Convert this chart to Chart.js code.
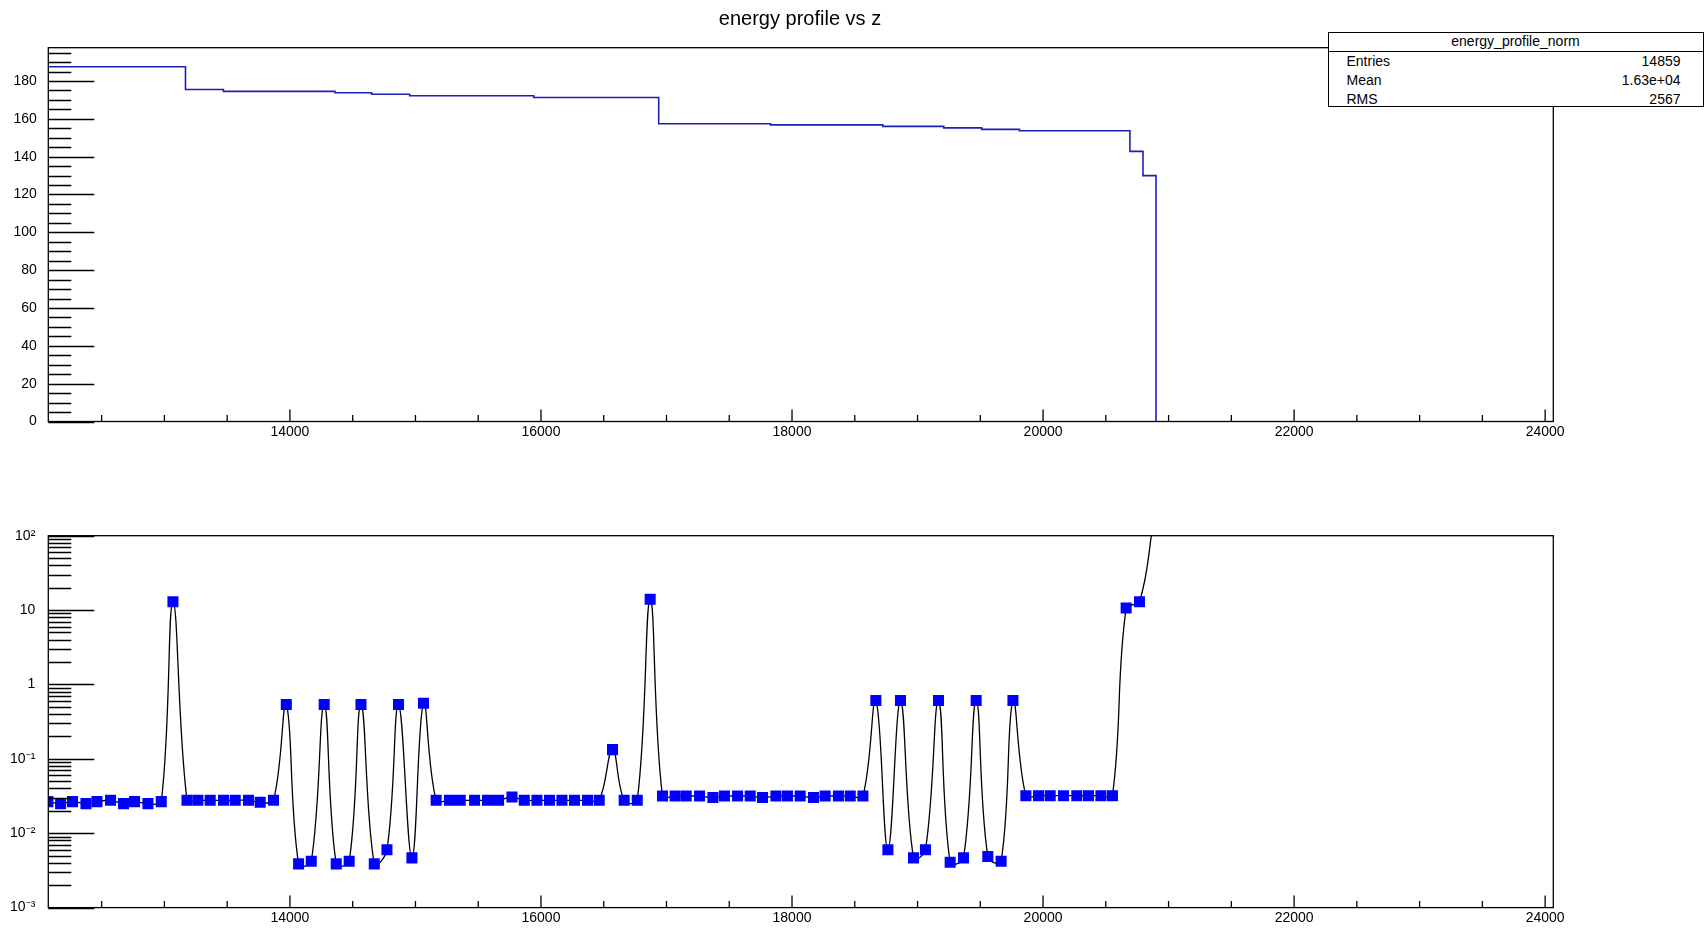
<!DOCTYPE html>
<html>
<head>
<meta charset="utf-8">
<title>energy profile vs z</title>
<script src="https://cdn.jsdelivr.net/npm/chart.js@4.4.1/dist/chart.umd.min.js"></script>
<style>
  html, body { margin: 0; padding: 0; background: #fff; }
  body { width: 1707px; height: 929px; position: relative; overflow: hidden; font-family: "Liberation Sans", Arial, sans-serif; color: #000; }
  canvas { position: absolute; left: 0; }
  #topChart { top: 0; }
  #bottomChart { top: 465px; }
  .title { position: absolute; left: 600px; width: 400px; top: 6px; text-align: center; font-size: 20px; line-height: 24px; white-space: nowrap; }
  .stats { position: absolute; left: 1327.5px; top: 32px; width: 376px; height: 75px; box-sizing: border-box; border: 1.4px solid #000; background: #fff; font-size: 14px; z-index: 2; }
  .stats .head { position: absolute; left: 0; right: 0; top: 0; height: 17.5px; border-bottom: 1.4px solid #000; text-align: center; line-height: 17.5px; }
  .stats .lbl, .stats .val { position: absolute; line-height: 16px; white-space: nowrap; }
  .stats .lbl { left: 18px; }
  .stats .val { right: 22px; text-align: right; }
</style>
</head>
<body>
<canvas id="topChart" width="1707" height="465"></canvas>
<canvas id="bottomChart" width="1707" height="464"></canvas>
<div class="title">energy profile vs z</div>
<div class="stats">
  <div class="head">energy_profile_norm</div>
  <div class="lbl" style="top:19.5px">Entries</div><div class="val" style="top:19.5px">14859</div>
  <div class="lbl" style="top:38.5px">Mean</div><div class="val" style="top:38.5px">1.63e+04</div>
  <div class="lbl" style="top:57.5px">RMS</div><div class="val" style="top:57.5px">2567</div>
</div>
<script>
// histogram energy_profile_norm: bin edges where the level changes, and the level from that edge on
const histEdges = [12075, 13168, 13470, 14359, 14651, 14954, 15942, 16938, 17829, 18723, 19209, 19511, 19812, 20692, 20796, 20900];
const histValues = [187.5, 175.5, 174.5, 173.8, 173.0, 172.2, 171.3, 157.4, 156.8, 156.0, 155.2, 154.4, 153.7, 142.8, 130.0, 0];

// lower pad: graph points (z, value), log scale
const graphZ = [
  12072, 12173, 12268, 12375, 12463, 12571, 12674, 12762, 12869, 12975,
  13068, 13180, 13267, 13365, 13471, 13564, 13670, 13763, 13869, 13971,
  14069, 14170, 14273, 14369, 14472, 14566, 14672, 14773, 14865, 14972,
  15064, 15165, 15271, 15357, 15471, 15574, 15662, 15769, 15867, 15968,
  16068, 16167, 16267, 16371, 16464, 16570, 16663, 16767, 16870, 16968,
  17069, 17157, 17263, 17370, 17462, 17566, 17667, 17765, 17872, 17964,
  18065, 18171, 18264, 18370, 18464, 18565, 18668, 18764, 18864, 18968,
  19063, 19167, 19260, 19366, 19467, 19560, 19666, 19760, 19863, 19964,
  20057, 20163, 20269, 20362, 20461, 20553, 20662, 20768, 20881
];
const graphValues = [
  0.0266, 0.025, 0.0266, 0.025, 0.0266, 0.0277, 0.025, 0.0266, 0.025, 0.0266,
  12.9, 0.0277, 0.0277, 0.0277, 0.0277, 0.0277, 0.0277, 0.026, 0.0277, 0.536,
  0.00387, 0.0042, 0.536, 0.00387, 0.0042, 0.536, 0.00387, 0.006, 0.536, 0.00466,
  0.558, 0.0277, 0.0277, 0.0277, 0.0277, 0.0277, 0.0277, 0.0307, 0.0277, 0.0277,
  0.0277, 0.0277, 0.0277, 0.0277, 0.0277, 0.133, 0.0277, 0.0277, 13.97, 0.0316,
  0.0316, 0.0316, 0.0316, 0.0302, 0.0316, 0.0316, 0.0316, 0.0302, 0.0316, 0.0316,
  0.0316, 0.0302, 0.0316, 0.0316, 0.0316, 0.0316, 0.607, 0.006, 0.607, 0.00466,
  0.006, 0.607, 0.00407, 0.00466, 0.607, 0.00485, 0.0042, 0.607, 0.032, 0.032,
  0.032, 0.032, 0.032, 0.032, 0.032, 0.032, 10.7, 12.9, 160
];

const zTicks = [14000, 16000, 18000, 20000, 22000, 24000];
const energyTicks = [0, 20, 40, 60, 80, 100, 120, 140, 160, 180];
const ratioTicks = [0.001, 0.01, 0.1, 1, 10, 100];
const ratioLabels = ['10\u207B\u00B3', '10\u207B\u00B2', '10\u207B\u00B9', '1', '10', '10\u00B2'];

const Z_MIN = 12075, Z_MAX = 24065;

Chart.defaults.font.family = '"Liberation Sans", Arial, Helvetica, sans-serif';
Chart.defaults.font.size = 14;
Chart.defaults.color = '#000';

// ROOT style frame: box round the pad and ticks pointing inwards
const rootFrame = {
  id: 'rootFrame',
  afterDatasetsDraw(chart) {
    const { ctx, chartArea: a, scales: { x, y } } = chart;
    ctx.save();
    ctx.strokeStyle = '#000';
    ctx.lineWidth = 1.3;
    ctx.beginPath();
    for (let v = 12500; v <= x.max; v += 500) {
      const px = x.getPixelForValue(v);
      const len = v % 2000 === 0 ? 12 : 6.5;
      ctx.moveTo(px, a.bottom);
      ctx.lineTo(px, a.bottom - len);
    }
    const yt = [];
    if (y.type === 'logarithmic') {
      for (let k = -3; k <= 1; k++) {
        for (let m = 1; m <= 9; m++) yt.push([m * Math.pow(10, k), m === 1]);
      }
      yt.push([100, true]);
    } else {
      for (let v = 0; v <= y.max; v += 5) yt.push([v, v % 20 === 0]);
    }
    yt.forEach(([v, major]) => {
      const py = Math.round(y.getPixelForValue(v)) + 0.5;
      ctx.moveTo(a.left, py);
      ctx.lineTo(a.left + (major ? 46 : 23), py);
    });
    ctx.stroke();
    ctx.strokeRect(a.left, a.top, a.right - a.left, a.bottom - a.top);
    ctx.restore();
  }
};

function xAxis(height, pad) {
  return {
    type: 'linear',
    min: Z_MIN,
    max: Z_MAX,
    grid: { display: false, drawTicks: false },
    border: { display: false },
    afterBuildTicks: s => { s.ticks = zTicks.map(v => ({ value: v })); },
    afterFit: s => { s.height = height; },
    ticks: { padding: pad, maxRotation: 0, autoSkip: false, callback: v => String(v) }
  };
}

new Chart(document.getElementById('topChart'), {
  type: 'line',
  data: {
    datasets: [{
      data: histEdges.map((z, i) => ({ x: z, y: histValues[i] })),
      stepped: 'before',
      borderColor: '#1f1fb4',
      borderWidth: 1.6,
      pointRadius: 0,
      fill: false
    }]
  },
  options: {
    responsive: false,
    animation: false,
    layout: { padding: { left: 0, top: 47.7, right: 153.7, bottom: 13.5 } },
    plugins: {
      legend: { display: false },
      tooltip: { enabled: false },
      title: { display: false }
    },
    scales: {
      x: xAxis(30, 2),
      y: {
        type: 'linear',
        min: 0,
        max: 197.6,
        grid: { display: false, drawTicks: false },
        border: { display: false },
        afterBuildTicks: s => { s.ticks = energyTicks.map(v => ({ value: v })); },
        afterFit: s => { s.width = 48.3; },
        ticks: { padding: 11.5 }
      }
    }
  },
  plugins: [rootFrame]
});

new Chart(document.getElementById('bottomChart'), {
  type: 'line',
  data: {
    datasets: [{
      data: graphZ.map((z, i) => ({ x: z, y: graphValues[i] })),
      borderColor: '#000',
      borderWidth: 1.3,
      tension: 0.4,
      pointStyle: 'rect',
      pointRadius: 7.8,
      pointBorderWidth: 0,
      pointBackgroundColor: '#0000ff',
      fill: false
    }]
  },
  options: {
    responsive: false,
    animation: false,
    layout: { padding: { left: 0, top: 70.7, right: 153.7, bottom: 0 } },
    plugins: { legend: { display: false }, tooltip: { enabled: false } },
    scales: {
      x: xAxis(19, 2),
      y: {
        type: 'logarithmic',
        min: 0.001,
        max: 100,
        grid: { display: false, drawTicks: false },
        border: { display: false },
        afterBuildTicks: s => { s.ticks = ratioTicks.map(v => ({ value: v })); },
        afterFit: s => { s.width = 48.3; },
        ticks: {
          padding: 13,
          callback: v => ratioLabels[ratioTicks.indexOf(v)]
        }
      }
    }
  },
  plugins: [rootFrame]
});
</script>
</body>
</html>
